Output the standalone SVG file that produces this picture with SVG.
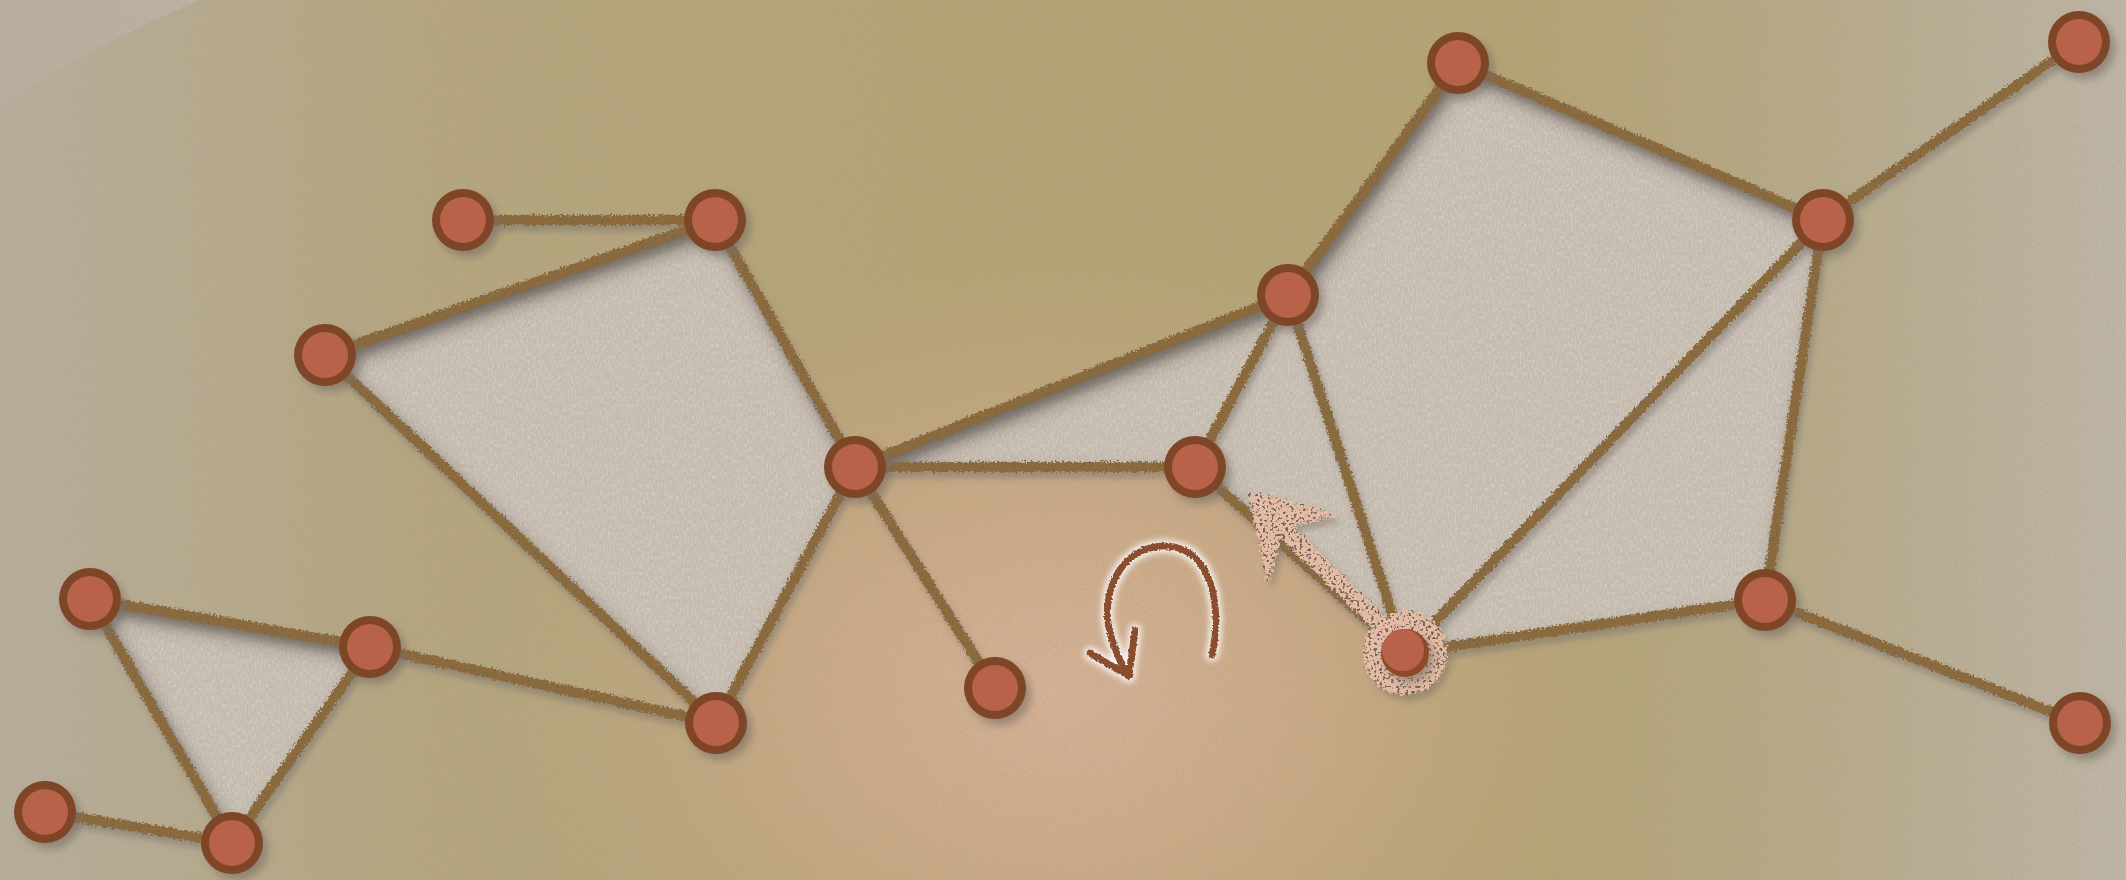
<svg xmlns="http://www.w3.org/2000/svg" width="2126" height="880" viewBox="0 0 2126 880">
  <defs>
    <linearGradient id="sideFade" x1="0" y1="0" x2="1" y2="0">
      <stop offset="0" stop-color="#b8ae9d" stop-opacity="0.95"/>
      <stop offset="0.2" stop-color="#b8ae9d" stop-opacity="0.25"/>
      <stop offset="0.45" stop-color="#b8ae9d" stop-opacity="0"/>
      <stop offset="0.72" stop-color="#b8ae9d" stop-opacity="0"/>
      <stop offset="0.9" stop-color="#bcb3a4" stop-opacity="0.6"/>
      <stop offset="1" stop-color="#bfb6a8" stop-opacity="0.95"/>
    </linearGradient>
    <radialGradient id="glow" gradientUnits="userSpaceOnUse" cx="1060" cy="690" r="580" gradientTransform="translate(1060 690) scale(1 0.78) translate(-1060 -690)">
      <stop offset="0" stop-color="#d6b196" stop-opacity="1"/>
      <stop offset="0.45" stop-color="#cfab8a" stop-opacity="0.75"/>
      <stop offset="1" stop-color="#c2a47c" stop-opacity="0"/>
    </radialGradient>
    <filter id="grain" filterUnits="userSpaceOnUse" x="0" y="0" width="2126" height="880">
      <feTurbulence type="fractalNoise" baseFrequency="0.9 0.35" numOctaves="2" seed="4" result="n"/>
      <feColorMatrix in="n" type="matrix" values="0 0 0 0 0.35  0 0 0 0 0.32  0 0 0 0 0.28  0.8 0 0 0 -0.36" result="g"/>
      <feComposite in="g" in2="SourceGraphic" operator="in"/>
    </filter>
    <filter id="inset" filterUnits="userSpaceOnUse" x="0" y="0" width="2126" height="880">
      <feFlood flood-color="#221b13" flood-opacity="1" result="f"/>
      <feComposite in="f" in2="SourceAlpha" operator="out" result="outside"/>
      <feGaussianBlur in="outside" stdDeviation="11"/>
      <feOffset dx="6" dy="10" result="sh"/>
      <feComposite in="sh" in2="SourceAlpha" operator="in" result="inner"/>
      <feTurbulence type="fractalNoise" baseFrequency="0.6 0.25" numOctaves="2" seed="11" result="mott"/>
      <feColorMatrix in="mott" type="matrix" values="0 0 0 0 1  0 0 0 0 1  0 0 0 0 1  0.5 0 0 0 -0.2" result="m2"/>
      <feComposite in="m2" in2="SourceAlpha" operator="in" result="mottle"/>
      <feMerge>
        <feMergeNode in="SourceGraphic"/>
        <feMergeNode in="mottle"/>
        <feMergeNode in="inner"/>
      </feMerge>
    </filter>
    <filter id="rough" filterUnits="userSpaceOnUse" x="0" y="0" width="2126" height="880">
      <feTurbulence type="fractalNoise" baseFrequency="0.45" numOctaves="2" seed="2" result="n"/>
      <feDisplacementMap in="SourceGraphic" in2="n" scale="7" xChannelSelector="R" yChannelSelector="G" result="d"/>
      <feTurbulence type="fractalNoise" baseFrequency="0.5" numOctaves="1" seed="9" result="n2"/>
      <feColorMatrix in="n2" type="matrix" values="0 0 0 0 0.16  0 0 0 0 0.12  0 0 0 0 0.08  14 0 0 0 -9.2" result="spots"/>
      <feComposite in="spots" in2="d" operator="in" result="spotsIn"/>
      <feGaussianBlur in="d" stdDeviation="3" result="b"/>
      <feOffset in="b" dx="3" dy="6" result="o"/>
      <feColorMatrix in="o" type="matrix" values="0 0 0 0 0.2  0 0 0 0 0.17  0 0 0 0 0.15  0 0 0 0.55 0" result="shadow"/>
      <feMerge>
        <feMergeNode in="shadow"/>
        <feMergeNode in="d"/>
        <feMergeNode in="spotsIn"/>
      </feMerge>
    </filter>
    <filter id="nodeShadow" x="-50%" y="-50%" width="200%" height="200%">
      <feGaussianBlur in="SourceAlpha" stdDeviation="4"/>
      <feOffset dx="5" dy="6"/>
      <feColorMatrix type="matrix" values="0 0 0 0 0.18  0 0 0 0 0.15  0 0 0 0 0.12  0 0 0 0.6 0" result="s"/>
      <feMerge>
        <feMergeNode in="s"/>
        <feMergeNode in="SourceGraphic"/>
      </feMerge>
    </filter>
    <filter id="chalk" filterUnits="userSpaceOnUse" x="1150" y="420" width="320" height="300">
      <feTurbulence type="fractalNoise" baseFrequency="0.3" numOctaves="2" seed="5" result="n"/>
      <feDisplacementMap in="SourceGraphic" in2="n" scale="10" xChannelSelector="R" yChannelSelector="G" result="d"/>
      <feTurbulence type="fractalNoise" baseFrequency="0.35" numOctaves="2" seed="8" result="n2"/>
      <feColorMatrix in="n2" type="matrix" values="0 0 0 0 0.18  0 0 0 0 0.13  0 0 0 0 0.1  12 0 0 0 -6.7" result="spots"/>
      <feComposite in="spots" in2="d" operator="in" result="spotsIn"/>
      <feGaussianBlur in="d" stdDeviation="3" result="b"/>
      <feOffset in="b" dx="4" dy="6" result="o"/>
      <feColorMatrix in="o" type="matrix" values="0 0 0 0 0.2  0 0 0 0 0.16  0 0 0 0 0.12  0 0 0 0.5 0" result="shadow"/>
      <feMerge>
        <feMergeNode in="shadow"/>
        <feMergeNode in="d"/>
        <feMergeNode in="spotsIn"/>
      </feMerge>
    </filter>
    <filter id="whiteGlow" filterUnits="userSpaceOnUse" x="1060" y="520" width="200" height="190">
      <feTurbulence type="fractalNoise" baseFrequency="0.5" numOctaves="1" seed="3" result="n"/>
      <feDisplacementMap in="SourceGraphic" in2="n" scale="4" xChannelSelector="R" yChannelSelector="G" result="d"/>
      <feMorphology in="d" operator="dilate" radius="2" result="dil"/>
      <feGaussianBlur in="dil" stdDeviation="3" result="gb"/>
      <feColorMatrix in="gb" type="matrix" values="0 0 0 0 1  0 0 0 0 1  0 0 0 0 1  0 0 0 0.9 0" result="wg"/>
      <feMerge>
        <feMergeNode in="wg"/>
        <feMergeNode in="d"/>
      </feMerge>
    </filter>
    <style>
      .edge { stroke: #8b6a3e; stroke-width: 10; stroke-linecap: round; fill: none; }
      .face { fill: #c4baad; stroke: none; }
      .ring { fill: #7e4525; }
      .core { fill: #b8634a; }
      .chalk { fill: #e4bba5; }
      .rotate { fill: none; stroke: #8a4e2f; stroke-width: 7; stroke-linecap: round; stroke-linejoin: round; }
    </style>
  </defs>

  <!-- paper backdrop -->
  <g id="background">
    <rect x="0" y="0" width="2126" height="880" fill="#c3b9ad"/>
    <path d="M0,107 A1283,595 0 0 1 200,0 L2126,0 L2126,880 L0,880 Z" fill="#b4a374"/>
    <rect x="0" y="0" width="2126" height="880" fill="url(#sideFade)"/>
    <rect x="0" y="0" width="2126" height="880" fill="url(#glow)"/>
    <rect x="0" y="0" width="2126" height="880" fill="#000" filter="url(#grain)"/>
  </g>

  <!-- shaded faces -->
  <g id="faces" filter="url(#inset)">
    <polygon class="face" points="715,220 325,355 716,723 855,467"/>
    <polygon class="face" points="855,467 1288,295 1195,467"/>
    <polygon class="face" points="1195,467 1288,295 1405,653"/>
    <polygon class="face" points="1288,295 1458,63 1823,220 1405,653"/>
    <polygon class="face" points="1823,220 1765,600 1405,653"/>
    <polygon class="face" points="90,599 370,647 232,843"/>
  </g>

  <!-- connectors -->
  <g id="connectors" filter="url(#rough)">
    <line class="edge" x1="463" y1="220" x2="715" y2="220"/>
    <line class="edge" x1="715" y1="220" x2="325" y2="355"/>
    <line class="edge" x1="715" y1="220" x2="855" y2="467"/>
    <line class="edge" x1="325" y1="355" x2="716" y2="723"/>
    <line class="edge" x1="855" y1="467" x2="716" y2="723"/>
    <line class="edge" x1="855" y1="467" x2="995" y2="688"/>
    <line class="edge" x1="855" y1="467" x2="1195" y2="467"/>
    <line class="edge" x1="855" y1="467" x2="1288" y2="295"/>
    <line class="edge" x1="1195" y1="467" x2="1288" y2="295"/>
    <line class="edge" x1="1195" y1="467" x2="1405" y2="653"/>
    <line class="edge" x1="1288" y1="295" x2="1458" y2="63"/>
    <line class="edge" x1="1288" y1="295" x2="1405" y2="653"/>
    <line class="edge" x1="1458" y1="63" x2="1823" y2="220"/>
    <line class="edge" x1="1823" y1="220" x2="2079" y2="42"/>
    <line class="edge" x1="1823" y1="220" x2="1405" y2="653"/>
    <line class="edge" x1="1823" y1="220" x2="1765" y2="600"/>
    <line class="edge" x1="1765" y1="600" x2="1405" y2="653"/>
    <line class="edge" x1="1765" y1="600" x2="2080" y2="723"/>
    <line class="edge" x1="90" y1="599" x2="370" y2="647"/>
    <line class="edge" x1="370" y1="647" x2="716" y2="723"/>
    <line class="edge" x1="90" y1="599" x2="232" y2="843"/>
    <line class="edge" x1="370" y1="647" x2="232" y2="843"/>
    <line class="edge" x1="232" y1="843" x2="45" y2="812"/>
  </g>

  <!-- vertices -->
  <g id="n1" filter="url(#nodeShadow)"><circle class="ring" cx="463" cy="220" r="31"/><circle class="core" cx="463" cy="220" r="23"/></g>
  <g id="n2" filter="url(#nodeShadow)"><circle class="ring" cx="715" cy="220" r="31"/><circle class="core" cx="715" cy="220" r="23"/></g>
  <g id="n3" filter="url(#nodeShadow)"><circle class="ring" cx="325" cy="355" r="31"/><circle class="core" cx="325" cy="355" r="23"/></g>
  <g id="n4" filter="url(#nodeShadow)"><circle class="ring" cx="855" cy="467" r="31"/><circle class="core" cx="855" cy="467" r="23"/></g>
  <g id="n5" filter="url(#nodeShadow)"><circle class="ring" cx="1195" cy="467" r="31"/><circle class="core" cx="1195" cy="467" r="23"/></g>
  <g id="n6" filter="url(#nodeShadow)"><circle class="ring" cx="1288" cy="295" r="31"/><circle class="core" cx="1288" cy="295" r="23"/></g>
  <g id="n7" filter="url(#nodeShadow)"><circle class="ring" cx="1458" cy="63" r="31"/><circle class="core" cx="1458" cy="63" r="23"/></g>
  <g id="n8" filter="url(#nodeShadow)"><circle class="ring" cx="2079" cy="42" r="31"/><circle class="core" cx="2079" cy="42" r="23"/></g>
  <g id="n9" filter="url(#nodeShadow)"><circle class="ring" cx="1823" cy="220" r="31"/><circle class="core" cx="1823" cy="220" r="23"/></g>
  <g id="n10" filter="url(#nodeShadow)"><circle class="ring" cx="1765" cy="600" r="31"/><circle class="core" cx="1765" cy="600" r="23"/></g>
  <g id="n11" filter="url(#nodeShadow)"><circle class="ring" cx="2080" cy="723" r="31"/><circle class="core" cx="2080" cy="723" r="23"/></g>
  <g id="n13" filter="url(#nodeShadow)"><circle class="ring" cx="995" cy="688" r="31"/><circle class="core" cx="995" cy="688" r="23"/></g>
  <g id="n14" filter="url(#nodeShadow)"><circle class="ring" cx="716" cy="723" r="31"/><circle class="core" cx="716" cy="723" r="23"/></g>
  <g id="n15" filter="url(#nodeShadow)"><circle class="ring" cx="370" cy="647" r="31"/><circle class="core" cx="370" cy="647" r="23"/></g>
  <g id="n16" filter="url(#nodeShadow)"><circle class="ring" cx="90" cy="599" r="31"/><circle class="core" cx="90" cy="599" r="23"/></g>
  <g id="n17" filter="url(#nodeShadow)"><circle class="ring" cx="45" cy="812" r="31"/><circle class="core" cx="45" cy="812" r="23"/></g>
  <g id="n18" filter="url(#nodeShadow)"><circle class="ring" cx="232" cy="843" r="31"/><circle class="core" cx="232" cy="843" r="23"/></g>

  <!-- rotate gesture hint -->
  <g id="rotate-hint" filter="url(#whiteGlow)">
    <path class="rotate" d="M1212,655 C1222,610 1214,548 1166,546 C1118,545 1100,598 1110,632 C1114,648 1119,660 1127,674"/>
    <path class="rotate" d="M1135,630 L1129,676 L1090,653"/>
  </g>

  <!-- selected vertex with drag arrow -->
  <g id="n12">
    <g filter="url(#chalk)">
      <polygon class="chalk" points="1247,490 1338,515 1293,526 1384,616 1372,628 1281,538 1268,584"/>
      <circle class="chalk" cx="1405" cy="653" r="42"/>
    </g>
    <g filter="url(#nodeShadow)">
      <circle cx="1405" cy="653" r="24" fill="#8e4a2c"/>
      <circle class="core" cx="1403" cy="650" r="21"/>
    </g>
  </g>
</svg>
